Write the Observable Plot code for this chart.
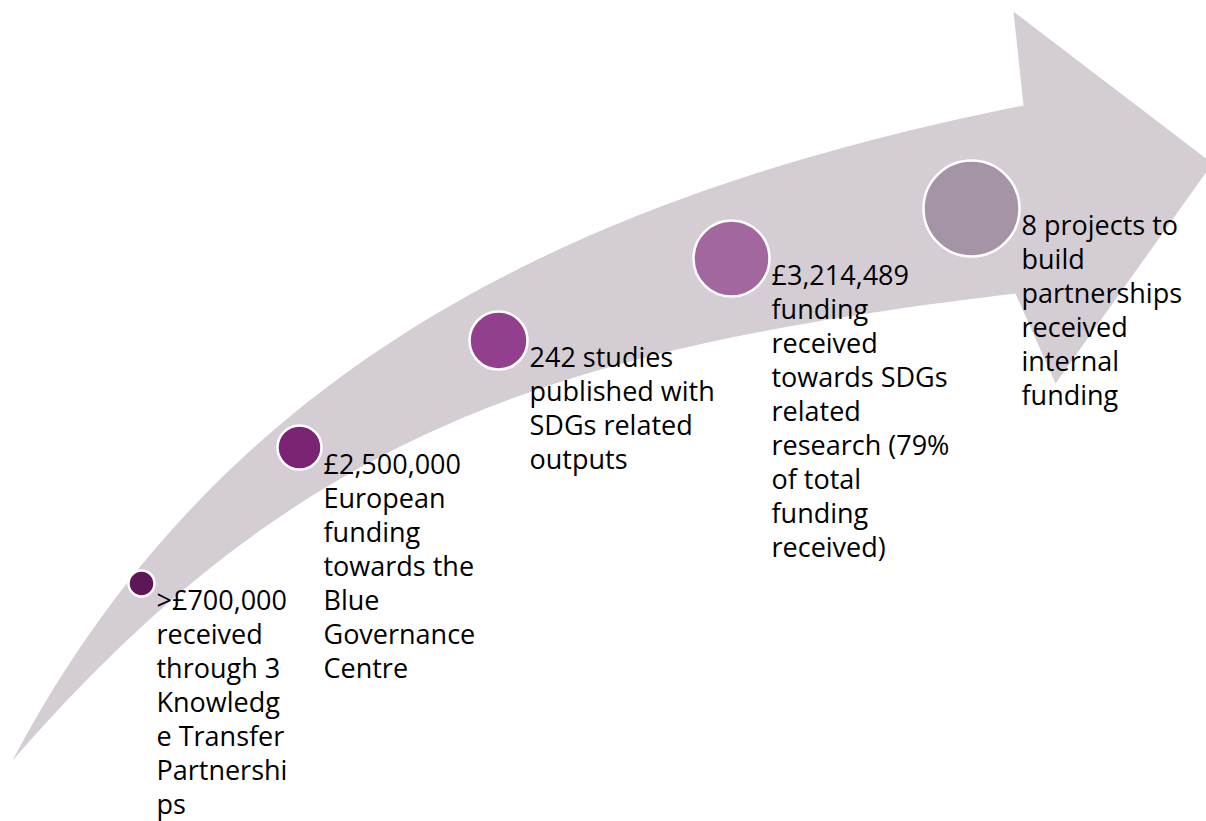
<!DOCTYPE html>
<html>
<head>
<meta charset="utf-8">
<script src="https://cdn.jsdelivr.net/npm/d3@7"></script>
<script src="https://cdn.jsdelivr.net/npm/@observablehq/plot@0.6"></script>
<style>
  html, body { margin: 0; padding: 0; background: #ffffff; overflow: hidden; }
  #chart svg { display: block; }
</style>
</head>
<body>
<div id="chart"></div>
<script>
// ---------- DATA ----------
const steps = [1, 2, 3, 4, 5];
const labels = [
  [">£700,000", "received", "through 3", "Knowledg", "e Transfer", "Partnershi", "ps"],
  ["£2,500,000", "European", "funding", "towards the", "Blue", "Governance", "Centre"],
  ["242 studies", "published with", "SDGs related", "outputs"],
  ["£3,214,489", "funding", "received", "towards SDGs", "related", "research (79%", "of total", "funding", "received)"],
  ["8 projects to", "build", "partnerships", "received", "internal", "funding"]
];

// ---------- STYLE ----------
const stepColors = ["#5e1656", "#7b2474", "#923f8e", "#a3679f", "#a594a6"];
const arrowColor = "#d4cdd4";

// ---------- LAYOUT (diagram geometry) ----------
const W = 1206, H = 821;
const milestoneLayout = [
  {cx: 141, cy: 583, r: 13},
  {cx: 299, cy: 447, r: 22},
  {cx: 498, cy: 340, r: 29},
  {cx: 731, cy: 258, r: 38},
  {cx: 971, cy: 208, r: 48}
];
// arrow body edges as cubic Bézier control points (tail -> head)
const upperEdge = [[12,760],[221.7,362],[582,193.2],[1023,105]];
const lowerEdge = [[12,760],[300.6,427.8],[558.2,347.7],[1015,293]];
const arrowHead = [[1013,11],[1212,163],[1055,383]];

function bezier([p0, p1, p2, p3], n = 80) {
  const out = [];
  for (let k = 0; k <= n; k++) {
    const t = k / n, u = 1 - t;
    const a = u*u*u, b = 3*u*u*t, c = 3*u*t*t, d = t*t*t;
    out.push([a*p0[0] + b*p1[0] + c*p2[0] + d*p3[0], a*p0[1] + b*p1[1] + c*p2[1] + d*p3[1]]);
  }
  return out;
}

const outline = [...bezier(upperEdge), ...arrowHead, ...bezier(lowerEdge).reverse()];

const fontSize = 27;
const linePx = 34;
const lineHeight = linePx / fontSize;
const rows = steps.map((s, i) => {
  const L = milestoneLayout[i];
  return {
    step: s,
    cx: L.cx, cy: L.cy, r: L.r,
    color: stepColors[i],
    tx: L.cx + L.r + 2,
    ty: L.cy + 26.3 - 0.71 * linePx,
    text: labels[i].join("\n")
  };
});

const chart = Plot.plot({
  width: W,
  height: H,
  margin: 0,
  x: {domain: [0, W], range: [0, W], axis: null},
  y: {domain: [0, H], range: [0, H], axis: null},
  r: {type: "identity"},
  color: {type: "identity"},
  style: {background: "#ffffff", fontFamily: "'Open Sans', sans-serif"},
  marks: [
    Plot.line(outline, {x: d => d[0], y: d => d[1], fill: arrowColor, stroke: "none", curve: "linear", clip: true}),
    Plot.dot(rows, {x: "cx", y: "cy", r: "r", fill: "color", stroke: "white", strokeWidth: 2.5}),
    Plot.text(rows, {
      x: "tx", y: "ty", text: "text",
      textAnchor: "start", lineAnchor: "top",
      fontSize: fontSize, lineHeight: lineHeight,
      fontFamily: "'Open Sans', sans-serif",
      fill: "#000000"
    })
  ]
});
document.getElementById("chart").appendChild(chart);
</script>
</body>
</html>
